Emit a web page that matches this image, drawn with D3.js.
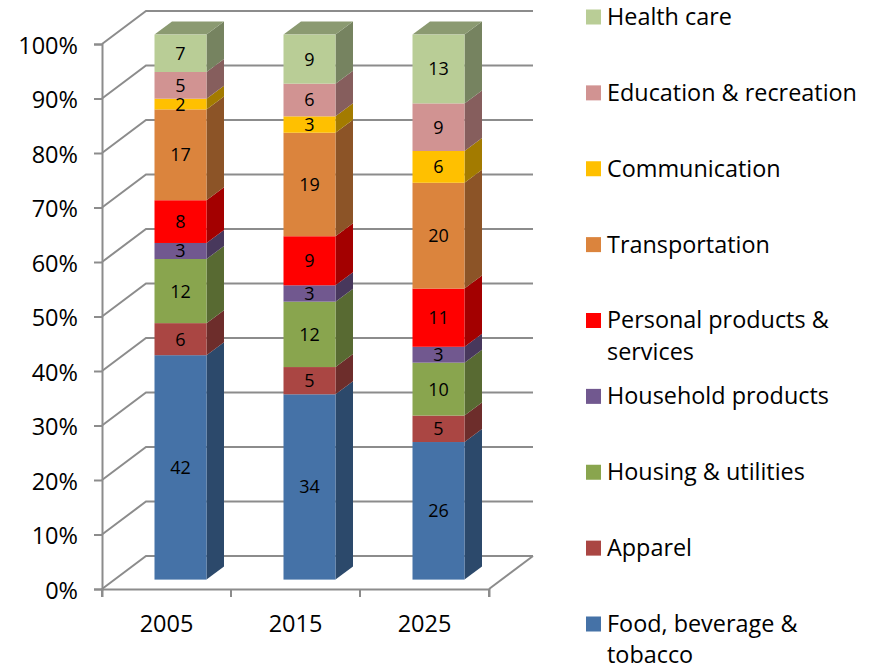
<!DOCTYPE html>
<html>
<head>
<meta charset="utf-8">
<script src="https://cdn.jsdelivr.net/npm/d3@7"></script>
<style>
  html, body { margin: 0; padding: 0; background: #fff; }
  svg { display: block; }
  text { font-family: "Open Sans", sans-serif; fill: #000; }
</style>
</head>
<body>
<div class="svg-container"></div>
<script>
//Data
const years = ['2005', '2015', '2025'];
const seriesNames = ['Food, beverage & tobacco', 'Apparel', 'Housing & utilities', 'Household products',
  'Personal products & services', 'Transportation', 'Communication', 'Education & recreation', 'Health care'];
const food = [42, 34, 26];
const apparel = [6, 5, 5];
const housing = [12, 12, 10];
const household = [3, 3, 3];
const personal = [8, 9, 11];
const transportation = [17, 19, 20];
const communication = [2, 3, 6];
const education = [5, 6, 9];
const health = [7, 9, 13];
const seriesValues = [food, apparel, housing, household, personal, transportation, communication, education, health];
const seriesColors = ['#4572a7', '#aa4643', '#89a54e', '#71588f', '#ff0000', '#db843d', '#ffc000', '#d19392', '#b9cd96'];
const percentTicks = [0, 10, 20, 30, 40, 50, 60, 70, 80, 90, 100];
//legend wraps these two onto a second line
const legendLines = {
  'Food, beverage & tobacco': ['Food, beverage &', 'tobacco'],
  'Personal products & services': ['Personal products &', 'services']
};

const width = 874;
const height = 665;
const gridColor = '#8c8c8c';

//front plane of the axes, and how far back the walls go
const plot = {left: 102, right: 489, top: 44, bottom: 589};
const wall = {dx: 44, dy: -33};
//bars sit inside the box
const inset = {dx: 14, dy: -9.4};
const depth = {dx: 17.5, dy: -13};

const svg = d3.select('.svg-container')
  .append('svg')
  .attr('width', width)
  .attr('height', height);

const x = d3.scaleBand()
  .domain(years)
  .range([plot.left, plot.right]);

const y = d3.scaleLinear()
  .domain([0, 100])
  .range([plot.bottom, plot.top]);

//each column is normalised to 100%
const table = years.map((year, i) => {
  const row = {year};
  seriesNames.forEach((name, s) => { row[name] = seriesValues[s][i]; });
  return row;
});
const stacked = d3.stack()
  .keys(seriesNames)
  .offset(d3.stackOffsetExpand)(table);

const shade = (color, k) => {
  const c = d3.rgb(color);
  return d3.rgb(c.r * k, c.g * k, c.b * k).formatHex();
};

//walls
const grid = svg.append('g')
  .attr('fill', 'none')
  .attr('stroke', gridColor)
  .attr('stroke-width', 2);

grid.selectAll('.back')
  .data(percentTicks)
  .enter().append('path')
  .attr('class', 'back')
  .attr('d', d => `M${plot.left},${y(d)}L${plot.left + wall.dx},${y(d) + wall.dy}L${plot.right + wall.dx},${y(d) + wall.dy}`);

grid.append('path')
  .attr('d', `M${plot.right},${plot.bottom}L${plot.right + wall.dx},${plot.bottom + wall.dy}`);

//axes
const axisY = svg.append('g')
  .attr('transform', `translate(${plot.left},0)`)
  .call(d3.axisLeft(y).tickValues(percentTicks).tickFormat(d => d + '%').tickSize(8).tickPadding(16));
const axisX = svg.append('g')
  .attr('transform', `translate(0,${plot.bottom})`)
  .call(d3.axisBottom(x).tickSize(8).tickPadding(18).tickSizeOuter(8));

[axisY, axisX].forEach(axis => {
  axis.selectAll('path, line').attr('stroke', gridColor).attr('stroke-width', 2);
  axis.selectAll('text').style('font-size', '23.5px').style('font-family', '"Open Sans", sans-serif');
});
axisY.selectAll('text').attr('dy', '0.39em');
//band ticks go between the categories
axisX.selectAll('.tick line')
  .attr('x1', x.bandwidth() / 2)
  .attr('x2', x.bandwidth() / 2);
axisX.append('line')
  .attr('x1', plot.left).attr('x2', plot.left)
  .attr('y1', 0).attr('y2', 8)
  .attr('stroke', gridColor).attr('stroke-width', 2);

//bars
const barWidth = 52;
const barX = year => x(year) + (x.bandwidth() - barWidth) / 2 + inset.dx;
const barY = v => y(v * 100) + inset.dy;

const series = svg.selectAll('.serie')
  .data(stacked)
  .enter().append('g')
  .attr('class', 'serie');

series.each(function(s, si) {
  const g = d3.select(this);
  const color = seriesColors[si];
  const cells = g.selectAll('g').data(s).enter().append('g');

  cells.append('path')
    .attr('fill', shade(color, 0.64))
    .attr('d', d => {
      const r = barX(d.data.year) + barWidth;
      return `M${r},${barY(d[0])}L${r + depth.dx},${barY(d[0]) + depth.dy}L${r + depth.dx},${barY(d[1]) + depth.dy}L${r},${barY(d[1])}Z`;
    });

  if (si === stacked.length - 1) {
    cells.append('path')
      .attr('fill', shade(color, 0.75))
      .attr('d', d => {
        const l = barX(d.data.year);
        const t = barY(d[1]);
        return `M${l},${t}L${l + depth.dx},${t + depth.dy}L${l + barWidth + depth.dx},${t + depth.dy}L${l + barWidth},${t}Z`;
      });
  }

  cells.append('rect')
    .attr('x', d => barX(d.data.year))
    .attr('y', d => barY(d[1]))
    .attr('width', barWidth)
    .attr('height', d => barY(d[0]) - barY(d[1]))
    .attr('fill', color);
});

//data labels go last, the small segments let them overlap the next colour
const labelLayer = svg.append('g');
stacked.forEach((s, si) => {
  labelLayer.selectAll(null)
    .data(s)
    .enter().append('text')
    .attr('x', d => barX(d.data.year) + barWidth / 2)
    .attr('y', d => (barY(d[0]) + barY(d[1])) / 2)
    .attr('dy', '0.36em')
    .attr('text-anchor', 'middle')
    .style('font-size', '18px')
    .text(d => d.data[s.key]);
});

//legend, top entry is the last series
const legendY = d3.scalePoint()
  .domain(seriesNames.slice().reverse())
  .range([17, 624]);

const legend = svg.selectAll('.legend')
  .data(seriesNames)
  .enter().append('g')
  .attr('class', 'legend')
  .attr('transform', d => `translate(586,${legendY(d)})`);

legend.append('rect')
  .attr('y', -7.5)
  .attr('width', 15)
  .attr('height', 15)
  .attr('fill', (d, i) => seriesColors[i]);

legend.append('text')
  .attr('x', 21)
  .style('font-size', '23.4px')
  .selectAll('tspan')
  .data(d => legendLines[d] || [d])
  .enter().append('tspan')
  .attr('x', 21)
  .attr('dy', (d, i) => i === 0 ? '0.34em' : '31.5px')
  .text(d => d);
</script>
</body>
</html>
